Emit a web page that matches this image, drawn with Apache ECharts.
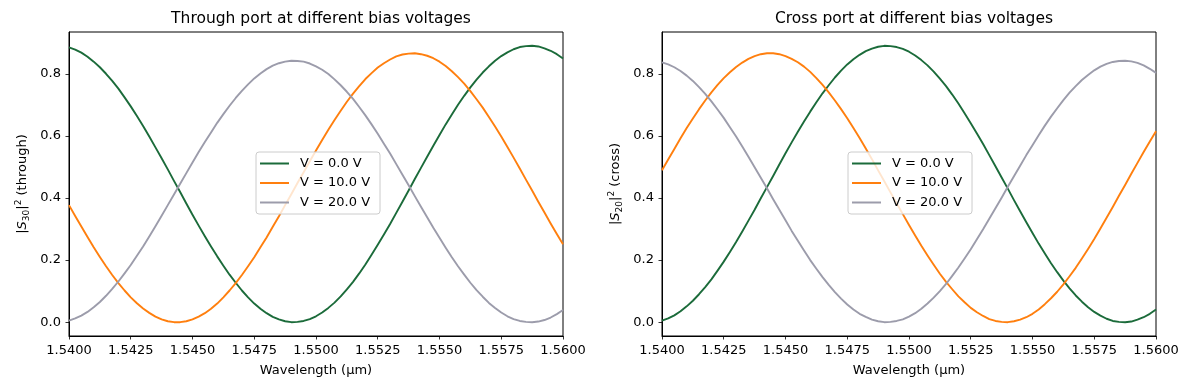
<!DOCTYPE html>
<html><head><meta charset="utf-8">
<script src="https://cdn.jsdelivr.net/npm/echarts@6/dist/echarts.min.js"></script>
<style>html,body{margin:0;padding:0;background:#fff}#c{width:1189px;height:390px}</style>
</head><body><div id="c"></div>
<script>
const wavelength = [1.54,1.54025,1.5405,1.54075,1.541,1.54125,1.5415,1.54175,1.542,1.54225,1.5425,1.54275,1.543,1.54325,1.5435,1.54375,1.544,1.54425,1.5445,1.54475,1.545,1.54525,1.5455,1.54575,1.546,1.54625,1.5465,1.54675,1.547,1.54725,1.5475,1.54775,1.548,1.54825,1.5485,1.54875,1.549,1.54925,1.5495,1.54975,1.55,1.55025,1.5505,1.55075,1.551,1.55125,1.5515,1.55175,1.552,1.55225,1.5525,1.55275,1.553,1.55325,1.5535,1.55375,1.554,1.55425,1.5545,1.55475,1.555,1.55525,1.5555,1.55575,1.556,1.55625,1.5565,1.55675,1.557,1.55725,1.5575,1.55775,1.558,1.55825,1.5585,1.55875,1.559,1.55925,1.5595,1.55975,1.56];
const seriesNames = ['V = 0.0 V', 'V = 10.0 V', 'V = 20.0 V'];
const through0 = [0.885,0.878,0.868,0.855,0.839,0.821,0.800,0.777,0.752,0.724,0.695,0.664,0.632,0.598,0.563,0.528,0.492,0.455,0.419,0.382,0.346,0.311,0.277,0.244,0.212,0.182,0.153,0.127,0.102,0.080,0.060,0.043,0.029,0.017,0.009,0.003,0.000,0.001,0.004,0.010,0.019,0.031,0.046,0.063,0.083,0.106,0.130,0.157,0.186,0.217,0.249,0.282,0.316,0.352,0.388,0.424,0.461,0.497,0.533,0.568,0.603,0.637,0.669,0.700,0.729,0.756,0.781,0.804,0.824,0.842,0.857,0.869,0.879,0.886,0.889,0.890,0.888,0.882,0.874,0.863,0.849];
const through10 = [0.377,0.342,0.308,0.274,0.241,0.210,0.180,0.152,0.126,0.102,0.080,0.061,0.044,0.030,0.018,0.009,0.003,0.000,0.000,0.003,0.009,0.018,0.029,0.043,0.060,0.080,0.102,0.126,0.152,0.180,0.209,0.241,0.273,0.307,0.341,0.377,0.412,0.448,0.483,0.518,0.553,0.587,0.620,0.651,0.681,0.710,0.736,0.760,0.783,0.802,0.820,0.834,0.846,0.856,0.862,0.865,0.866,0.863,0.858,0.850,0.839,0.825,0.808,0.789,0.768,0.744,0.718,0.691,0.661,0.630,0.598,0.564,0.530,0.495,0.459,0.424,0.388,0.353,0.318,0.284,0.251];
const through20 = [0.005,0.012,0.021,0.033,0.048,0.065,0.085,0.107,0.131,0.157,0.184,0.214,0.244,0.276,0.309,0.343,0.377,0.411,0.446,0.480,0.514,0.548,0.580,0.611,0.642,0.670,0.697,0.722,0.745,0.766,0.785,0.801,0.815,0.826,0.834,0.839,0.842,0.841,0.839,0.833,0.824,0.813,0.799,0.782,0.763,0.742,0.719,0.693,0.666,0.637,0.607,0.575,0.543,0.509,0.475,0.441,0.406,0.372,0.338,0.304,0.272,0.240,0.209,0.180,0.153,0.127,0.103,0.082,0.062,0.046,0.031,0.019,0.010,0.004,0.001,0.000,0.002,0.007,0.015,0.026,0.039];
const cross0 = [0.005,0.012,0.022,0.035,0.051,0.069,0.090,0.113,0.138,0.166,0.195,0.226,0.258,0.292,0.327,0.362,0.399,0.435,0.471,0.508,0.544,0.579,0.613,0.646,0.678,0.708,0.737,0.763,0.788,0.810,0.830,0.847,0.861,0.873,0.881,0.887,0.890,0.889,0.886,0.880,0.871,0.859,0.844,0.827,0.807,0.784,0.760,0.733,0.704,0.673,0.641,0.608,0.574,0.538,0.502,0.466,0.430,0.393,0.357,0.322,0.287,0.253,0.221,0.190,0.161,0.134,0.109,0.086,0.066,0.048,0.033,0.021,0.011,0.004,0.001,0.000,0.002,0.008,0.016,0.027,0.041];
const cross10 = [0.489,0.524,0.558,0.592,0.625,0.656,0.686,0.714,0.740,0.764,0.786,0.805,0.822,0.836,0.848,0.857,0.863,0.866,0.866,0.863,0.857,0.848,0.837,0.823,0.806,0.786,0.764,0.740,0.714,0.686,0.657,0.625,0.593,0.559,0.525,0.489,0.454,0.418,0.383,0.348,0.313,0.279,0.246,0.215,0.185,0.156,0.130,0.106,0.083,0.064,0.046,0.032,0.020,0.010,0.004,0.001,0.000,0.003,0.008,0.016,0.027,0.041,0.058,0.077,0.098,0.122,0.148,0.175,0.205,0.236,0.268,0.302,0.336,0.371,0.407,0.442,0.478,0.513,0.548,0.582,0.615];
const cross20 = [0.837,0.830,0.821,0.809,0.794,0.777,0.757,0.735,0.711,0.685,0.658,0.628,0.598,0.566,0.533,0.499,0.465,0.431,0.396,0.362,0.328,0.294,0.262,0.231,0.200,0.172,0.145,0.120,0.097,0.076,0.057,0.041,0.027,0.017,0.008,0.003,0.000,0.001,0.004,0.009,0.018,0.029,0.043,0.060,0.079,0.100,0.123,0.149,0.176,0.205,0.235,0.267,0.299,0.333,0.367,0.401,0.436,0.470,0.504,0.538,0.570,0.602,0.633,0.662,0.689,0.715,0.739,0.760,0.780,0.796,0.811,0.823,0.832,0.838,0.841,0.842,0.840,0.835,0.827,0.816,0.803];
const xTicks = [1.5400,1.5425,1.5450,1.5475,1.5500,1.5525,1.5550,1.5575,1.5600];
const yTicks = [0.0,0.2,0.4,0.6,0.8];
const titles = ['Through port at different bias voltages', 'Cross port at different bias voltages'];
const xLabel = 'Wavelength (µm)';
const yLabels = ['|{i|S}{s|30}|{p|2} (through)', '|{i|S}{s|20}|{p|2} (cross)'];

const colors = ['#1b6b3a', '#ff7f0e', '#9c9cab'];
const FONT = 'DejaVu Sans';
const pair = arr => arr.map((v, i) => [wavelength[i], v]);

const grids = [{left: 69, top: 32, width: 494, height: 304}, {left: 662, top: 32, width: 494, height: 304}];
const option = {
  animation: false,
  backgroundColor: '#fff',
  title: titles.map((t, i) => ({
    text: t, left: grids[i].left + grids[i].width / 2, top: 6, textAlign: 'center',
    textStyle: {fontFamily: FONT, fontSize: 15.5, fontWeight: 'normal', color: '#000'}
  })),
  grid: grids.map(g => Object.assign({show: true, borderColor: '#000', borderWidth: 1, backgroundColor: 'transparent'}, g)),
  legend: grids.map((g, i) => ({
    orient: 'vertical', left: i === 0 ? 256 : 848, top: 152,
    data: seriesNames, selectedMode: false,
    icon: 'path://M0,0 L29,0 L29,2 L0,2 Z',
    itemWidth: 29, itemHeight: 14, itemGap: 6.5,
    padding: [5, 10, 5, 4],
    backgroundColor: 'rgba(255,255,255,0.8)', borderColor: '#cccccc', borderWidth: 1, borderRadius: 3,
    textStyle: {fontFamily: FONT, fontSize: 13, color: '#000', padding: [0, 0, 0, 6]}
  })),
  xAxis: grids.map((g, i) => ({
    type: 'value', gridIndex: i, min: 1.54, max: 1.56,
    name: xLabel, nameLocation: 'middle', nameGap: 28,
    nameTextStyle: {fontFamily: FONT, fontSize: 13, color: '#000'},
    axisLine: {show: true, onZero: false, lineStyle: {color: '#000', width: 1}},
    axisTick: {show: true, inside: false, length: 3.5, lineStyle: {color: '#000', width: 0.8}, customValues: xTicks},
    axisLabel: {customValues: xTicks, formatter: v => v.toFixed(4), fontFamily: FONT, fontSize: 13, color: '#000', margin: 8},
    splitLine: {show: false}
  })),
  yAxis: grids.map((g, i) => ({
    type: 'value', gridIndex: i, min: -0.0445, max: 0.9345,
    name: yLabels[i], nameLocation: 'middle', nameGap: 37, nameRotate: 90,
    nameTextStyle: {fontFamily: FONT, fontSize: 13, color: '#000',
      rich: {
        i: {fontFamily: FONT, fontSize: 13, fontStyle: 'italic', color: '#000'},
        s: {fontFamily: FONT, fontSize: 9, color: '#000', padding: [7, 0, 0, 0]},
        p: {fontFamily: FONT, fontSize: 9, color: '#000', padding: [0, 0, 9, 0]}
      }},
    axisLine: {show: true, onZero: false, lineStyle: {color: '#000', width: 1}},
    axisTick: {show: true, inside: false, length: 3.5, lineStyle: {color: '#000', width: 0.8}, customValues: yTicks},
    axisLabel: {customValues: yTicks, formatter: v => v.toFixed(1), fontFamily: FONT, fontSize: 13, color: '#000', margin: 8},
    splitLine: {show: false}
  })),
  series: []
};
const throughData = [through0, through10, through20];
const crossData = [cross0, cross10, cross20];
[throughData, crossData].forEach((set, gi) => {
  set.forEach((arr, si) => {
    option.series.push({
      type: 'line', name: seriesNames[si], xAxisIndex: gi, yAxisIndex: gi,
      data: pair(arr), symbol: 'none', showSymbol: false, smooth: false,
      color: colors[si],
      lineStyle: {color: colors[si], width: 1.9, join: 'round'}
    });
  });
});
const chart = echarts.init(document.getElementById('c'), null, {renderer: 'canvas'});
chart.setOption(option);
</script>
</body></html>
